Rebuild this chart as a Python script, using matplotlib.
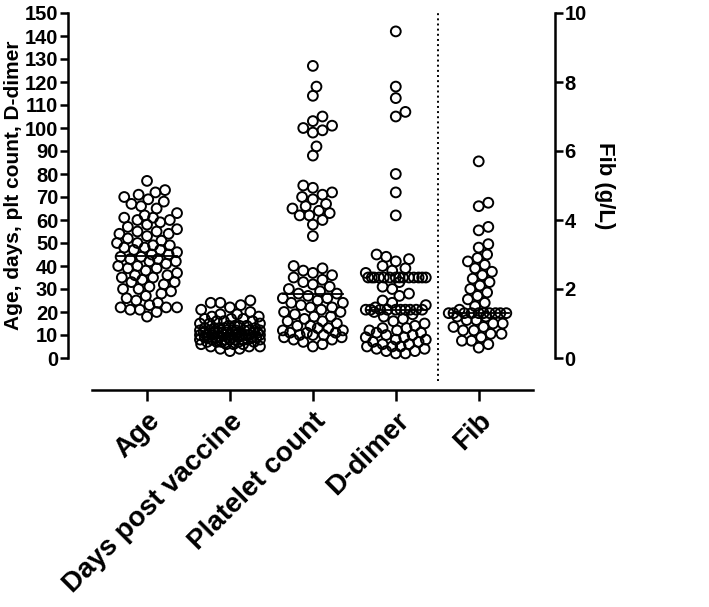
import numpy as np
import matplotlib.pyplot as plt

plt.rcParams['font.family'] = ['Liberation Sans', 'DejaVu Sans']
plt.rcParams['font.weight'] = 'bold'

categories = ['Age', 'Days post vaccine', 'Platelet count', 'D-dimer', 'Fib']

age = [77, 73, 72, 71, 70, 69, 68, 67, 66, 65, 63, 62, 61, 61, 60, 60, 59, 58, 57, 56,
       55, 55, 54, 54, 53, 52, 51, 50, 50, 49, 49, 48, 48, 47, 47, 46, 45, 45, 44, 44,
       43, 43, 42, 42, 41, 40, 40, 39, 39, 38, 37, 36, 36, 35, 35, 34, 33, 33, 32, 31,
       30, 30, 29, 28, 27, 26, 25, 24, 23, 22, 22, 22, 21, 21, 20, 18]
days = [25, 24, 24, 23, 22, 21, 20, 19, 19, 18, 18, 17, 17, 17, 16, 16, 16, 15, 15, 15,
        14, 14, 14, 14, 13, 13, 13, 13, 13, 12, 12, 12, 12, 12, 12, 12, 11, 11, 11, 11,
        11, 11, 11, 11, 10, 10, 10, 10, 10, 10, 10, 10, 10, 10, 9, 9, 9, 9, 9, 9, 9, 9,
        9, 8, 8, 8, 8, 8, 8, 8, 8, 7, 7, 7, 7, 7, 6, 6, 6, 6, 5, 5, 5, 4, 4, 3]
platelet = [127, 118, 114, 105, 103, 101, 100, 99, 98, 92, 88, 75, 74, 72, 71,
            70, 69, 67, 66, 65, 64, 63, 62, 62, 60, 58, 53, 40, 39, 38, 37, 36, 35, 34, 33,
            32, 31, 30, 29, 28, 28, 27, 26, 26, 25, 24, 24, 23, 22, 22, 21, 20, 20, 19, 18,
            18, 17, 16, 16, 15, 14, 14, 13, 13, 12, 12, 11, 11, 11, 10, 10, 10, 9, 9, 8,
            8, 7, 6, 5]
ddimer = [142, 118, 113, 107, 105, 80, 72, 62, 45, 44, 43, 42, 40, 39, 38, 37,
          35, 35, 35, 35, 35, 35, 35, 35, 35, 35, 35, 35, 35, 35, 33, 31, 30, 28, 27, 25,
          24, 23, 22, 21, 21, 21, 21, 21, 21, 21, 21, 21, 21, 20, 19, 18, 17, 16, 15, 14,
          13, 13, 12, 12, 11, 11, 10, 10, 9, 9, 8, 8, 7, 7, 6, 6, 5, 5, 5, 4, 4, 3, 3, 2, 2]
fib = [5.7, 4.5, 4.4, 3.8, 3.7, 3.3, 3.2, 3.0, 2.9, 2.8, 2.7, 2.6, 2.5, 2.4, 2.3, 2.2,
       2.1, 2.0, 1.9, 1.8, 1.7, 1.6, 1.5, 1.4,
       1.3, 1.3, 1.3, 1.3, 1.3, 1.3, 1.3, 1.3, 1.3, 1.3,
       1.2, 1.2, 1.1, 1.1, 1.0, 1.0, 0.9, 0.9, 0.8, 0.8, 0.7, 0.7, 0.6, 0.5, 0.5, 0.4, 0.3]

W, H = 709, 607
L, R, T, B = 68, 555, 13, 358
fig = plt.figure(figsize=(W / 100, H / 100), dpi=100)
ax = fig.add_axes([L / W, 1 - B / H, (R - L) / W, (B - T) / H])
ax2 = ax.twinx()

xlim = (-0.953, 4.92)
ax.set_xlim(*xlim)
ax.set_ylim(0, 150)
ax2.set_ylim(0, 10)

px_per_x = (R - L) / (xlim[1] - xlim[0])
px_per_left = (B - T) / 150
px_per_right = (B - T) / 10
diam = 9.6


def swarm(vals, px_per_unit, mind=diam * 1.0, step=1.2, maxhalf=30):
    # column-scatter layout in pixel space, packed tighter when a row is full
    vals = np.asarray(vals, dtype=float)
    ys = vals * px_per_unit
    offs = np.zeros(len(vals))
    placed = []
    n = int(maxhalf / step)
    cands = np.array([0.0] + [s * k * step for k in range(1, n + 1) for s in (1, -1)])
    for i in np.argsort(vals):
        if placed:
            P = np.array(placed)
            d2 = (cands[:, None] - P[None, :, 0]) ** 2 + (ys[i] - P[None, :, 1]) ** 2
            mn = d2.min(axis=1)
            ok = np.where(mn >= mind ** 2)[0]
            c = cands[ok[0]] if len(ok) else cands[np.argmax(mn)]
        else:
            c = 0.0
        placed.append((c, ys[i]))
        offs[i] = c
    return offs / px_per_x


sty = dict(s=50, facecolors='none', edgecolors='black', linewidths=1.4, clip_on=False, zorder=3)
left_sets = [age, days, platelet, ddimer]
for i, vals in enumerate(left_sets):
    ax.scatter(i + swarm(vals, px_per_left), vals, **sty)
    m = np.median(vals)
    ax.plot([i - 0.36, i + 0.36], [m, m], color='black', lw=1.3, zorder=4)

ax2.scatter(4 + swarm(fib, px_per_right), fib, **sty)
mf = np.median(fib)
ax2.plot([4 - 0.36, 4 + 0.36], [mf, mf], color='black', lw=1.3, zorder=4)

# separator between left and right axis groups
ax.axvline(3.51, ymin=-23 / (B - T), ymax=1.0, color='black', ls=':', lw=1.4, clip_on=False)

for a in (ax, ax2):
    a.spines['top'].set_visible(False)
    a.tick_params(width=1.8, length=6, labelsize=14.5, pad=1)
ax2.spines['left'].set_visible(False)
ax2.spines['bottom'].set_visible(False)
ax.spines['right'].set_visible(False)
ax.spines['left'].set_linewidth(1.8)
ax2.spines['right'].set_linewidth(1.8)

ax.set_yticks(np.arange(0, 151, 10))
ax2.set_yticks(np.arange(0, 11, 2))
ax.set_ylabel('Age, days, plt count, D-dimer', fontsize=15, fontweight='bold', labelpad=1)
ax2.set_ylabel('Fib (g/L)', fontsize=16, fontweight='bold', rotation=270, labelpad=20)

# offset x axis line
ax.spines['bottom'].set_position(('outward', 23))
ax.spines['bottom'].set_bounds(-0.663, 4.656)
ax.spines['bottom'].set_linewidth(1.8)
ax.set_xticks(range(len(categories)))
ax.set_xticklabels(categories, rotation=45, ha='right', rotation_mode='anchor', fontsize=20)
ax.tick_params(axis='x', length=8, width=1.8, pad=5)

fig.savefig('out.png', dpi=100)
